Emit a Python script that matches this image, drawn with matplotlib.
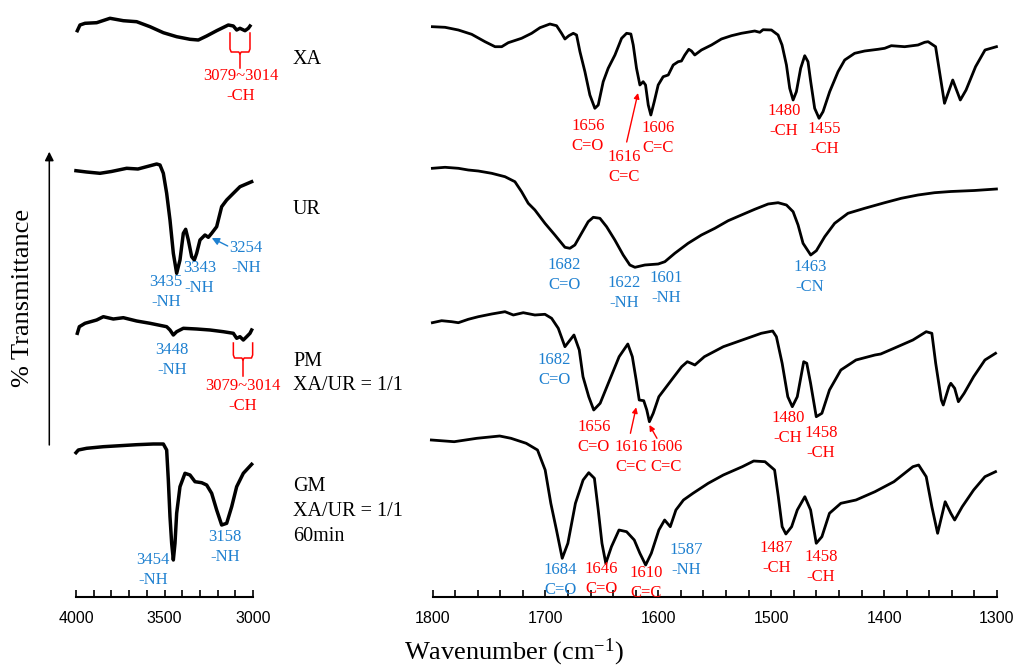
import matplotlib.pyplot as plt
from matplotlib.patches import FancyArrowPatch
import numpy as np

plt.rcParams['font.family'] = ['Liberation Serif', 'DejaVu Serif']
plt.rcParams['mathtext.fontset'] = 'custom'
plt.rcParams['mathtext.rm'] = 'Liberation Serif'

RED = '#FF0000'
BLUE = '#1E80D0'

# ---- spectra: wavenumber (cm-1) and stacked transmittance (arb. units)
# 4000-3000 region
xa_left_wn = [3992.5, 3977.4, 3949.1, 3883.2, 3807.9, 3732.6, 3657.3, 3581.9, 3506.6, 3431.3,
              3355.9, 3308.9, 3261.8, 3205.3, 3139.4, 3111.1, 3092.3, 3073.5, 3045.2, 3026.4, 3017.0]
xa_left_t = [566.3, 572.0, 573.7, 574.3, 578.7, 576.3, 575.3, 570.3, 564.3, 560.3,
             557.7, 557.0, 561.0, 566.3, 572.0, 571.0, 567.0, 568.7, 566.3, 568.7, 571.0]

ur_left_wn = [4000.3, 3940, 3864.4, 3800, 3713.8, 3650, 3544.3, 3525.5, 3506.6, 3487.8, 3469.0, 3450.1,
              3431.3, 3412.5, 3393.6, 3380.4, 3365.4, 3346.5, 3331.5, 3318.3, 3299.5,
              3271.2, 3252.4, 3233.6, 3205.3, 3177.1, 3148.8, 3111.1, 3073.5, 3007.6]
ur_left_t = [426.3, 425.0, 423.7, 425.5, 428.7, 428.0, 433.0, 432.0, 423.7, 403.7, 377.0, 343.7,
             323.7, 337.0, 363.7, 367.7, 357.0, 340.3, 337.0, 343.7, 357.0,
             362.0, 359.7, 363.7, 370.3, 390.3, 397.0, 403.7, 410.3, 415.3]

pm_left_wn = [3992.5, 3981.2, 3949.1, 3883.2, 3845.6, 3789.1, 3732.6, 3657.3, 3581.9, 3487.8,
              3469.0, 3450.1, 3431.3, 3393.6, 3318.3, 3243.0, 3167.6, 3111.1, 3092.3, 3073.5,
              3054.7, 3035.8, 3017.0, 3007.6]
pm_left_t = [263.7, 270.3, 273.7, 277.0, 280.3, 278.0, 279.3, 276.0, 273.7, 270.3,
             267.0, 262.0, 265.3, 268.7, 268.0, 267.0, 265.3, 263.7, 258.7, 260.3,
             257.0, 260.3, 263.7, 267.0]

gm_left_wn = [4000.0, 3986.8, 3939.7, 3845.6, 3751.4, 3657.3, 3563.1, 3506.6, 3487.8, 3478.4,
              3469.0, 3459.5, 3450.1, 3440.7, 3431.3, 3412.5, 3384.2, 3356.0, 3327.7, 3290.1,
              3261.8, 3233.5, 3205.3, 3177.0, 3148.8, 3120.4, 3092.3, 3054.7, 3007.6]
gm_left_t = [144.3, 147.0, 148.7, 150.3, 151.3, 152.3, 153.0, 153.0, 147.0, 117.0,
             80.3, 53.7, 37.0, 53.7, 83.7, 110.3, 123.7, 122.0, 115.3, 114.3,
             112.0, 103.7, 87.0, 72.0, 73.7, 90.3, 110.3, 123.7, 132.7]

# 1800-1300 region
xa_right_wn = [1800.1, 1788.9, 1777.1, 1765.3, 1753.5, 1744.6, 1738.7, 1732.9, 1721.1, 1712.2,
               1704.8, 1696.0, 1690.1, 1685.7, 1682.7, 1679.2, 1675.3, 1672.4, 1669.4, 1665.0,
               1660.6, 1656.2, 1653.2, 1648.8, 1644.4, 1638.4, 1632.5, 1628.1, 1624.3, 1622.2,
               1619.3, 1616.3, 1613.4, 1611.3, 1608.9, 1606.6, 1603.6, 1600.1, 1595.7, 1591.2,
               1586.8, 1582.4, 1579.5, 1576.5, 1573.0, 1570.6, 1567.7, 1561.8, 1552.9, 1544.1,
               1535.2, 1526.4, 1514.6, 1510.1, 1507.2, 1499.8, 1493.9, 1490.4, 1486.5, 1483.6,
               1480.6, 1477.7, 1473.9, 1470.3, 1467.4, 1465.0, 1461.5, 1457.6, 1454.1, 1448.2,
               1440.8, 1434.9, 1426.1, 1417.2, 1405.4, 1399.5, 1393.6, 1381.8, 1370.0, 1364.1,
               1361.0, 1354.4, 1346.5, 1339.2, 1332.5, 1327.4, 1319.0, 1310.6, 1300.5]
xa_right_t = [570.3, 569.7, 567.0, 562.7, 555.3, 550.3, 550.3, 554.3, 558.7, 563.7,
              569.3, 573.0, 571.3, 563.7, 558.0, 561.3, 563.7, 562.0, 545.3, 525.3,
              502.0, 488.7, 492.0, 515.3, 528.7, 542.0, 558.7, 563.7, 563.0, 552.0,
              528.7, 512.0, 515.3, 512.0, 492.0, 482.0, 495.3, 512.0, 520.3, 522.0,
              532.0, 535.3, 536.0, 542.0, 547.7, 546.0, 542.0, 547.0, 552.0, 558.0,
              561.3, 563.7, 566.0, 564.7, 567.3, 567.0, 562.0, 552.0, 532.0, 508.7,
              497.0, 505.3, 528.7, 541.3, 535.3, 515.3, 488.7, 478.7, 485.3, 505.3,
              525.3, 537.0, 543.7, 546.0, 547.7, 548.7, 551.3, 550.3, 552.0, 554.7,
              555.3, 550.3, 493.7, 517.0, 497.0, 507.0, 530.3, 547.0, 550.3]

ur_right_wn = [1800.1, 1788.9, 1777.1, 1768.3, 1759.4, 1747.6, 1735.8, 1727.0, 1721.1, 1715.2,
               1709.3, 1700.4, 1691.6, 1682.7, 1678.3, 1673.9, 1668.0, 1662.1, 1657.6, 1651.7,
               1645.8, 1638.5, 1631.1, 1625.2, 1620.7, 1611.9, 1600.1, 1594.2, 1585.4, 1573.6,
               1561.8, 1549.9, 1538.1, 1526.4, 1514.6, 1502.7, 1493.9, 1486.5, 1480.6, 1476.2,
               1471.8, 1465.0, 1460.0, 1452.6, 1443.8, 1432.0, 1417.2, 1399.5, 1384.8, 1370.0,
               1355.3, 1340.9, 1320.0, 1300.5]
ur_right_t = [428.7, 429.7, 428.7, 427.0, 426.0, 423.7, 420.3, 415.3, 405.3, 393.7,
              387.0, 373.7, 362.0, 349.7, 348.7, 352.0, 363.7, 375.3, 379.7, 378.7,
              370.3, 357.0, 342.0, 332.0, 329.7, 332.0, 333.0, 335.3, 343.7, 353.7,
              362.0, 368.7, 376.3, 382.0, 387.7, 393.0, 394.3, 392.0, 385.3, 372.0,
              353.7, 342.0, 346.3, 360.3, 373.7, 383.7, 388.7, 394.3, 398.7, 402.0,
              404.3, 405.5, 406.5, 408.0]

pm_right_wn = [1800.1, 1791.9, 1783.0, 1777.1, 1768.3, 1759.4, 1747.6, 1735.8, 1728.4, 1719.6,
               1709.3, 1700.4, 1694.5, 1688.6, 1682.7, 1674.7, 1670.0, 1666.7, 1661.6, 1657.2,
               1651.5, 1643.1, 1634.7, 1627.0, 1623.0, 1619.6, 1616.9, 1612.9, 1610.2, 1607.9,
               1604.5, 1599.5, 1592.8, 1586.1, 1579.3, 1574.3, 1570.9, 1567.6, 1559.2, 1542.4,
               1525.6, 1508.8, 1498.7, 1495.4, 1490.3, 1485.3, 1481.3, 1476.9, 1471.2, 1468.5,
               1465.1, 1460.1, 1455.1, 1448.4, 1438.3, 1424.9, 1408.1, 1403.0, 1391.3, 1374.5,
               1362.7, 1357.7, 1354.3, 1349.3, 1347.6, 1342.6, 1340.9, 1337.5, 1334.2, 1329.1,
               1320.7, 1310.7, 1301.3]
pm_right_t = [274.3, 276.3, 275.3, 274.3, 277.7, 280.3, 283.0, 285.3, 282.0, 284.3,
              282.0, 282.7, 278.7, 268.7, 250.3, 262.0, 247.0, 220.3, 200.3, 187.0,
              193.7, 217.0, 240.3, 253.0, 240.3, 217.0, 197.0, 196.3, 187.0, 175.3,
              183.7, 200.3, 210.3, 220.3, 230.3, 235.3, 233.7, 232.0, 240.3, 250.3,
              257.0, 263.7, 266.0, 260.3, 233.7, 200.3, 190.3, 200.3, 235.3, 233.7,
              213.7, 180.3, 183.7, 207.0, 227.0, 237.0, 242.0, 243.0, 248.7, 257.0,
              265.3, 263.7, 233.7, 197.0, 192.0, 210.3, 213.7, 208.7, 195.3, 203.7,
              220.3, 237.0, 243.7]

gm_right_wn = [1801.0, 1780.8, 1760.7, 1740.5, 1730.5, 1717.0, 1707.0, 1700.2, 1695.2, 1690.2,
               1685.1, 1680.1, 1673.4, 1666.6, 1661.6, 1656.6, 1653.2, 1649.9, 1646.5, 1641.5,
               1634.8, 1628.1, 1621.3, 1616.3, 1611.2, 1606.2, 1599.5, 1594.4, 1589.4, 1584.4,
               1577.7, 1569.3, 1555.8, 1542.4, 1525.6, 1515.5, 1505.5, 1497.0, 1493.7, 1490.3,
               1487.0, 1481.9, 1476.9, 1470.2, 1465.1, 1460.1, 1455.1, 1448.4, 1438.3, 1424.9,
               1408.1, 1391.3, 1374.5, 1369.4, 1362.7, 1357.7, 1352.6, 1345.9, 1340.9, 1337.5,
               1330.8, 1320.7, 1310.7, 1301.3]
gm_right_t = [157.0, 155.3, 158.7, 161.0, 158.7, 153.7, 147.0, 127.0, 93.7, 67.0,
              38.7, 53.7, 93.7, 117.0, 124.3, 118.7, 87.0, 53.7, 33.7, 50.3,
              67.0, 65.3, 57.0, 43.7, 32.0, 43.7, 67.0, 77.0, 70.3, 87.0,
              97.0, 103.7, 113.7, 122.0, 130.3, 136.0, 135.3, 127.0, 100.3, 70.3,
              63.0, 70.3, 87.0, 100.3, 87.0, 53.7, 60.3, 83.7, 93.7, 97.0,
              105.3, 115.3, 130.3, 132.0, 120.3, 90.3, 63.7, 95.3, 83.7, 77.0,
              90.3, 107.0, 120.3, 125.3]

W, H = 1015, 670
fig = plt.figure(figsize=(W / 100, H / 100), dpi=100)
axL = fig.add_axes([76 / W, 73 / H, 177 / W, 597 / H])
axR = fig.add_axes([432.5 / W, 73 / H, 564.5 / W, 597 / H])

for ax in (axL, axR):
    ax.set_ylim(0, 597)
    for s in ('top', 'right', 'left'):
        ax.spines[s].set_visible(False)
    ax.spines['bottom'].set_linewidth(1.5)
    ax.set_yticks([])
    ax.patch.set_alpha(0)
    ax.tick_params(axis='x', which='both', direction='in', length=5, width=1.2, pad=10)

axL.set_xlim(4000, 3000)
axL.set_xticks([4000, 3500, 3000])
axL.set_xticks(np.arange(3000, 4001, 100), minor=True)
axR.set_xlim(1800, 1300)
axR.set_xticks(np.arange(1300, 1801, 100))
axR.set_xticks(np.arange(1300, 1801, 20), minor=True)
for ax in (axL, axR):
    for lab in ax.get_xticklabels():
        lab.set_fontfamily('Liberation Sans')
        lab.set_fontsize(11.5)

for wn, t in [(xa_left_wn, xa_left_t), (ur_left_wn, ur_left_t),
              (pm_left_wn, pm_left_t), (gm_left_wn, gm_left_t)]:
    axL.plot(wn, t, color='black', lw=2.5, clip_on=False, solid_joinstyle='round')
for wn, t in [(xa_right_wn, xa_right_t), (ur_right_wn, ur_right_t),
              (pm_right_wn, pm_right_t), (gm_right_wn, gm_right_t)]:
    axR.plot(wn, t, color='black', lw=2.0, clip_on=False, solid_joinstyle='round')


def label(ax, x, y, top, bottom, color, dy=20):
    ax.text(x, y, top, color=color, fontsize=12, ha='center', va='center', clip_on=False)
    ax.text(x, y - dy, bottom, color=color, fontsize=12, ha='center', va='center', clip_on=False)


def arrow(ax, tail, tip, color, ms=8):
    ax.annotate('', xy=tip, xytext=tail, annotation_clip=False,
                arrowprops=dict(arrowstyle='-|>', color=color, lw=1.0,
                                mutation_scale=ms, shrinkA=0, shrinkB=0))


def bracket(ax, left, right, top, bot, stem):
    c = (left + right) / 2
    k = (left - right) * 0.06
    ax.plot([left, left, left - k, c + k, c, c], [top, bot + 3, bot, bot, bot - 2, stem],
            color=RED, lw=1.1, clip_on=False)
    ax.plot([right, right, right + k, c - k, c], [top, bot + 3, bot, bot, bot - 2],
            color=RED, lw=1.1, clip_on=False)


# left panel annotations
bracket(axL, 3130, 3017, 564, 545, 529)
label(axL, 3068, 521, '3079~3014', '-CH', RED)
label(axL, 3493, 315, '3435', '-NH', BLUE)
label(axL, 3303, 329, '3343', '-NH', BLUE)
label(axL, 3038, 349, '3254', '-NH', BLUE)
arrow(axL, (3143, 351), (3233, 359), BLUE, ms=11)
label(axL, 3459, 247, '3448', '-NH', BLUE)
bracket(axL, 3111, 3002, 254, 239, 221)
label(axL, 3057, 211, '3079~3014', '-CH', RED)
label(axL, 3565, 37, '3454', '-NH', BLUE)
label(axL, 3158, 60, '3158', '-NH', BLUE)

# right panel annotations
label(axR, 1662.5, 471, '1656', 'C=O', RED)
label(axR, 1630, 440, '1616', 'C=C', RED)
arrow(axR, (1628, 455), (1618, 504), RED)
label(axR, 1600, 469, '1606', 'C=C', RED)
label(axR, 1488.7, 486, '1480', '-CH', RED)
label(axR, 1452.7, 468, '1455', '-CH', RED)

label(axR, 1683.5, 332, '1682', 'C=O', BLUE)
label(axR, 1630, 314, '1622', '-NH', BLUE)
label(axR, 1593, 319, '1601', '-NH', BLUE)
label(axR, 1465.5, 330, '1463', '-CN', BLUE)

label(axR, 1692, 237, '1682', 'C=O', BLUE)
label(axR, 1657, 170, '1656', 'C=O', RED)
label(axR, 1624.3, 150, '1616', 'C=C', RED)
label(axR, 1592.8, 150, '1606', 'C=C', RED)
arrow(axR, (1624.7, 163.7), (1619.6, 189.7), RED)
arrow(axR, (1601.2, 158.7), (1607.9, 172), RED)
label(axR, 1485.3, 179, '1480', '-CH', RED)
label(axR, 1455.8, 164, '1458', '-CH', RED)

label(axR, 1687, 27, '1684', 'C=O', BLUE)
label(axR, 1650.5, 28, '1646', 'C=O', RED)
label(axR, 1611, 24, '1610', 'C=C', RED)
label(axR, 1575.5, 47, '1587', '-NH', BLUE)
label(axR, 1495.4, 49, '1487', '-CH', RED)
label(axR, 1455.8, 40, '1458', '-CH', RED)

# sample names
names = [(59.5, 'XA'), (210, 'UR'), (361.7, 'PM'), (386, 'XA/UR = 1/1'),
         (486.7, 'GM'), (511.7, 'XA/UR = 1/1'), (536.7, '60min')]
for py, s in names:
    fig.text(293 / W, 1 - py / H, s, fontsize=14.5, ha='left', va='center')

fig.text(23 / W, 1 - 297.5 / H, '% Transmittance', fontsize=19, rotation=90,
         ha='center', va='center')
fig.text(514 / W, 1 - 652 / H, 'Wavenumber (cm$\\mathregular{^{-1}}$)', fontsize=19,
         ha='center', va='center')
fig.add_artist(FancyArrowPatch((49.3 / W, 1 - 445 / H), (49.3 / W, 1 - 151.7 / H),
                               transform=fig.transFigure, arrowstyle='-|>',
                               mutation_scale=13, lw=1.1, color='black',
                               shrinkA=0, shrinkB=0))

fig.savefig('out.png', dpi=100)
